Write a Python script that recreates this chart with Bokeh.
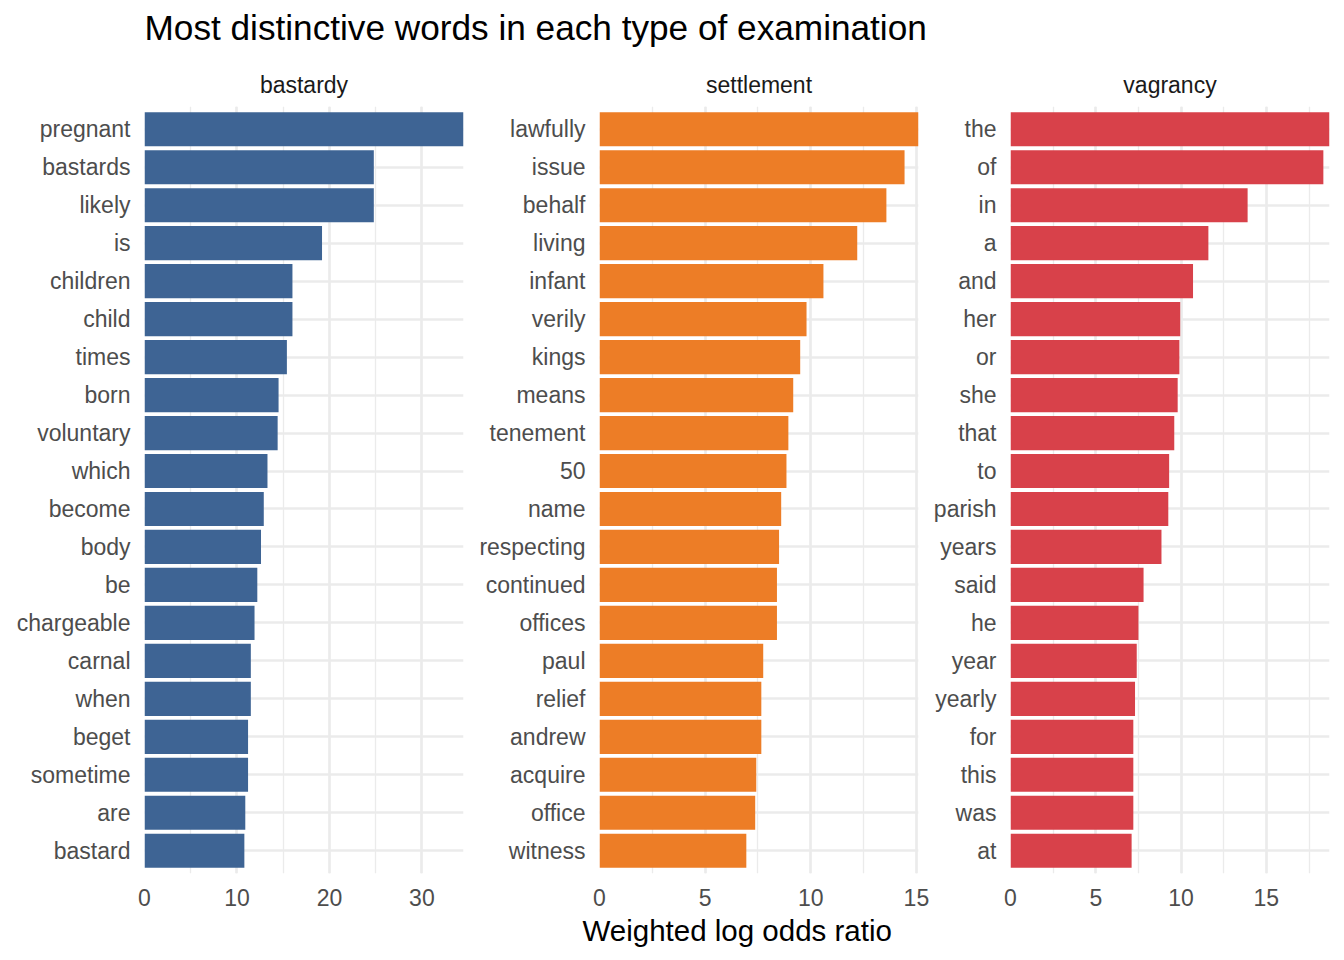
from bokeh.plotting import figure
from bokeh.models import Range1d, FactorRange, SingleIntervalTicker, Title, ColumnDataSource
from bokeh.layouts import column, row
from bokeh.embed import file_html
from bokeh.resources import INLINE

FONT = "Liberation Sans"

title_text = "Most distinctive words in each type of examination"
x_label = "Weighted log odds ratio"
panel_names = ["bastardy", "settlement", "vagrancy"]

bastardy_words = ["pregnant", "bastards", "likely", "is", "children", "child", "times",
                  "born", "voluntary", "which", "become", "body", "be", "chargeable",
                  "carnal", "when", "beget", "sometime", "are", "bastard"]
bastardy_values = [34.5, 24.8, 24.8, 19.2, 16.0, 16.0, 15.4, 14.5, 14.4, 13.3,
                   12.9, 12.6, 12.2, 11.9, 11.5, 11.5, 11.2, 11.2, 10.9, 10.8]

settlement_words = ["lawfully", "issue", "behalf", "living", "infant", "verily", "kings",
                    "means", "tenement", "50", "name", "respecting", "continued",
                    "offices", "paul", "relief", "andrew", "acquire", "office", "witness"]
settlement_values = [15.1, 14.44, 13.58, 12.2, 10.6, 9.8, 9.5, 9.17, 8.94, 8.85,
                     8.6, 8.5, 8.4, 8.4, 7.75, 7.66, 7.66, 7.42, 7.37, 6.95]

vagrancy_words = ["the", "of", "in", "a", "and", "her", "or", "she", "that", "to",
                  "parish", "years", "said", "he", "year", "yearly", "for", "this",
                  "was", "at"]
vagrancy_values = [18.7, 18.34, 13.9, 11.6, 10.7, 9.95, 9.9, 9.8, 9.6, 9.3,
                   9.25, 8.85, 7.8, 7.5, 7.4, 7.3, 7.2, 7.2, 7.2, 7.1]

colors = ["#3E6494", "#ED7D26", "#D8414A"]
tick_intervals = [10, 5, 5]

widths = [470, 460, 406]
left_borders = [144, 129, 80]
right_borders = [7, 12, 7]
TOP_B = 52
BOT_B = 86
FRAME_H = 767
PANEL_H = TOP_B + FRAME_H + BOT_B
GRID = "#EBEBEB"

panels_data = [(bastardy_words, bastardy_values),
               (settlement_words, settlement_values),
               (vagrancy_words, vagrancy_values)]

header = figure(width=sum(widths), height=54, toolbar_location=None, output_backend="svg",
                x_axis_location=None, y_axis_location=None,
                min_border_left=144, min_border_right=7, min_border_top=0,
                min_border_bottom=0, outline_line_color=None)
header.grid.visible = False
header.title.text = title_text
header.title.text_font = FONT
header.title.text_font_size = "35.2px"
header.title.text_font_style = "normal"
header.title.text_color = "#000000"
header.title.align = "left"

figs = []
for i, (name, (words, vals)) in enumerate(zip(panel_names, panels_data)):
    factors = list(reversed(words))
    src = ColumnDataSource(dict(word=words, value=vals))
    p = figure(width=widths[i], height=PANEL_H, toolbar_location=None,
               output_backend="svg",
               y_range=FactorRange(factors=factors, range_padding=0.1,
                                   range_padding_units="absolute"),
               x_range=Range1d(0, max(vals)),
               min_border_left=left_borders[i], min_border_right=right_borders[i],
               min_border_top=TOP_B, min_border_bottom=BOT_B,
               outline_line_color=None)
    p.hbar(y="word", right="value", left=0, height=0.9, source=src,
           fill_color=colors[i], line_color=None)
    p.title.text = name
    p.title.text_font = FONT
    p.title.text_font_size = "23px"
    p.title.text_font_style = "normal"
    p.title.text_color = "#1A1A1A"
    p.title.align = "center"
    p.title.standoff = 17

    p.xaxis.ticker = SingleIntervalTicker(interval=tick_intervals[i], num_minor_ticks=2)
    for ax in (p.xaxis, p.yaxis):
        ax.axis_line_color = None
        ax.major_tick_line_color = None
        ax.minor_tick_line_color = None
        ax.major_label_text_font = FONT
        ax.major_label_text_font_size = "23px"
        ax.major_label_text_color = "#4D4D4D"
    p.yaxis.major_label_standoff = 8
    p.xaxis.major_label_standoff = 9

    p.xgrid.grid_line_color = GRID
    p.xgrid.grid_line_width = 2.7
    p.xgrid.minor_grid_line_color = GRID
    p.xgrid.minor_grid_line_width = 1.35
    p.ygrid.grid_line_color = GRID
    p.ygrid.grid_line_width = 2.7
    figs.append(p)

xt = Title(text=x_label, align="left", offset=-17, standoff=7, text_font=FONT,
           text_font_size="29.5px", text_font_style="normal", text_color="#000000")
figs[1].add_layout(xt, "below")

layout = column(header, row(*figs))
open("out.html", "w").write(file_html(layout, INLINE))
